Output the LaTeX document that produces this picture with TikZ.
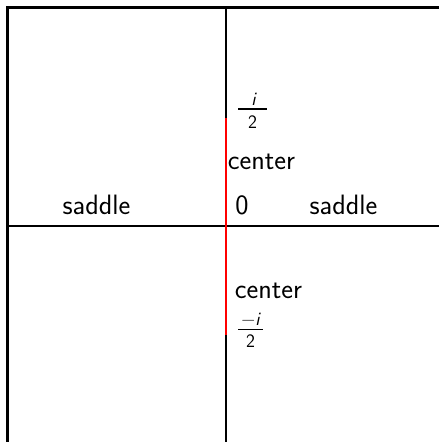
\documentclass[tikz,border=0pt]{standalone}
\usepackage{fontspec}
\begin{document}
\begin{tikzpicture}[x=1pt,y=-1pt,
  axis/.style={line width=2.2pt, black},
  redseg/.style={line width=2.2pt, red},
  fracbar/.style={line width=1.1pt, black},
  lbl/.style={inner sep=0pt, anchor=base, font=\fontsize{28}{33}\selectfont\sffamily},
  small/.style={inner sep=0pt, anchor=base, font=\fontsize{19}{23}\selectfont\sffamily}]
\useasboundingbox (0,0) rectangle (439,442);
% frame corners and axes ends
\coordinate (tl) at (7.5,7.5);
\coordinate (tr) at (439,7.5);
\coordinate (bl) at (7.5,442);
\coordinate (hl) at (7.5,226);
\coordinate (hr) at (439,226);
\coordinate (vt) at (226,7.5);
\coordinate (vb) at (226,442);
\coordinate (rt) at (226,118);
\coordinate (rb) at (226,335);
\draw[axis] (tr) -- (tl) -- (bl);
\draw[axis] (hl) -- (hr);
\draw[axis] (vt) -- (vb);
\draw[redseg] (rt) -- (rb);
% upper fraction i/2
\node[small] (inum) at (253.5,105) {\itshape i};
\coordinate (ib1) at (238,109);
\coordinate (ib2) at (267,109);
\draw[fracbar] (ib1) -- (ib2);
\node[small] (iden) at (252.5,128) {2};
% labels
\node[lbl] (c1) at (261.5,169) {center};
\node[lbl] (sl) at (96.5,214) {saddle};
\node[lbl] (zero) at (242,214) {0};
\node[lbl] (sr) at (343.5,214) {saddle};
\node[lbl] (c2) at (268.5,298) {center};
% lower fraction -i/2
\node[small] (mnum) at (250.5,325) {−\itshape i};
\coordinate (mb1) at (238,329.5);
\coordinate (mb2) at (263,329.5);
\draw[fracbar] (mb1) -- (mb2);
\node[small] (mden) at (250.5,347) {2};
\end{tikzpicture}
\end{document}
